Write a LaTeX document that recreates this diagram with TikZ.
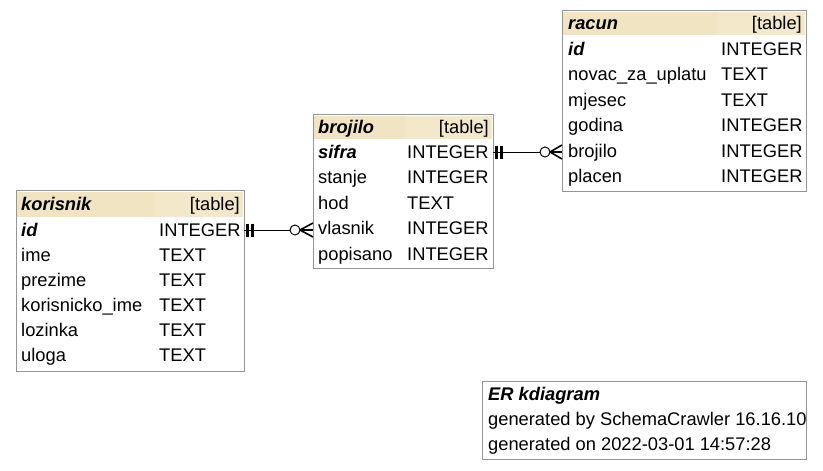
\documentclass[tikz,border=0pt]{standalone}
\usepackage{fontspec}
\setmainfont{Liberation Sans}
\usetikzlibrary{calc}
\definecolor{hdrL}{HTML}{F1E4C2}
\definecolor{hdrR}{HTML}{F3E8CA}
\definecolor{bord}{HTML}{959595}
\tikzset{
  every node/.style={font=\fontsize{18.3}{20}\selectfont, inner sep=0pt},
  tbox/.style={draw=bord, line width=1pt, fill=white},
  txt/.style={anchor=base west},
  rtxt/.style={anchor=base east},
  ttl/.style={anchor=base west, font=\fontsize{18.3}{20}\selectfont\bfseries\itshape},
  rel/.style={line width=1pt, black},
  bar/.style={line width=3pt, black},
  crow/.style={line width=1.6pt, black},
}
\begin{document}
\begin{tikzpicture}[x=1pt,y=-1pt]
\useasboundingbox (0,0) rectangle (823,471);
\fill[white] (0,0) rectangle (823,471);

% ---------- korisnik ----------
\draw[tbox] (16,190) rectangle (244,371);
\fill[hdrL] (17,192) rectangle (155,217);
\fill[hdrR] (155,192) rectangle (243,217);
\node[ttl] (k-title) at (21,210) {korisnik};
\node[rtxt] (k-tag) at (240,210) {[table]};
\node[ttl] (k-id) at (21,236) {id};
\node[txt] (k-idt) at (159,236) {INTEGER};
\node[txt] (k-ime) at (21,261) {ime};
\node[txt] at (159,261) {TEXT};
\node[txt] (k-prez) at (21,286) {prezime};
\node[txt] at (159,286) {TEXT};
\node[txt] (k-kor) at (21,311) {korisnicko\_ime};
\node[txt] at (159,311) {TEXT};
\node[txt] (k-loz) at (21,336) {lozinka};
\node[txt] at (159,336) {TEXT};
\node[txt] (k-ulo) at (21,361) {uloga};
\node[txt] at (159,361) {TEXT};

% ---------- brojilo ----------
\draw[tbox] (313,114) rectangle (493,268);
\fill[hdrL] (314,116) rectangle (405,139);
\fill[hdrR] (405,116) rectangle (492,139);
\node[ttl] (b-title) at (318,133) {brojilo};
\node[rtxt] (b-tag) at (489,133) {[table]};
\node[ttl] (b-sifra) at (318,158) {sifra};
\node[txt] (b-sifrat) at (407,158) {INTEGER};
\node[txt] (b-stanje) at (318,183.5) {stanje};
\node[txt] at (407,183.5) {INTEGER};
\node[txt] (b-hod) at (318,209) {hod};
\node[txt] at (407,209) {TEXT};
\node[txt] (b-vl) at (318,234.5) {vlasnik};
\node[txt] at (407,234.5) {INTEGER};
\node[txt] (b-pop) at (318,260) {popisano};
\node[txt] at (407,260) {INTEGER};

% ---------- racun ----------
\draw[tbox] (562,10) rectangle (806,191);
\fill[hdrL] (563,12) rectangle (717,35);
\fill[hdrR] (717,12) rectangle (805,35);
\node[ttl] (r-title) at (568,29) {racun};
\node[rtxt] (r-tag) at (802,29) {[table]};
\node[ttl] (r-id) at (568,55) {id};
\node[txt] at (721,55) {INTEGER};
\node[txt] (r-nov) at (568,80.5) {novac\_za\_uplatu};
\node[txt] at (721,80.5) {TEXT};
\node[txt] (r-mj) at (568,106) {mjesec};
\node[txt] at (721,106) {TEXT};
\node[txt] (r-god) at (568,131.5) {godina};
\node[txt] at (721,131.5) {INTEGER};
\node[txt] (r-br) at (568,157) {brojilo};
\node[txt] at (721,157) {INTEGER};
\node[txt] (r-pl) at (568,182) {placen};
\node[txt] at (721,182) {INTEGER};

% ---------- connectors ----------
\coordinate (c1s) at (244,230);
\coordinate (c1e) at (313,230);
\draw[rel] (c1s) -- ($(c1e)+(-23,0)$);
\draw[bar] ($(c1s)+(3.5,-6.5)$) -- ($(c1s)+(3.5,6.5)$);
\draw[bar] ($(c1s)+(8.5,-6.5)$) -- ($(c1s)+(8.5,6.5)$);
\draw[rel, fill=white] ($(c1e)+(-18,0)$) circle (5);
\draw[crow] ($(c1e)+(-13,0)$) -- ($(c1e)+(0,-7)$);
\draw[crow] ($(c1e)+(-13,0)$) -- (c1e);
\draw[crow] ($(c1e)+(-13,0)$) -- ($(c1e)+(0,7)$);

\coordinate (c2s) at (493,152);
\coordinate (c2e) at (562,152);
\draw[rel] (c2s) -- ($(c2e)+(-22,0)$);
\draw[bar] ($(c2s)+(3.5,-6.5)$) -- ($(c2s)+(3.5,6.5)$);
\draw[bar] ($(c2s)+(8.5,-6.5)$) -- ($(c2s)+(8.5,6.5)$);
\draw[rel, fill=white] ($(c2e)+(-17,0)$) circle (5);
\draw[crow] ($(c2e)+(-12,0)$) -- ($(c2e)+(0,-7)$);
\draw[crow] ($(c2e)+(-12,0)$) -- (c2e);
\draw[crow] ($(c2e)+(-12,0)$) -- ($(c2e)+(0,7)$);

% ---------- legend ----------
\draw[tbox] (482,381) rectangle (806,459);
\node[ttl] (l-title) at (488,400) {ER kdiagram};
\node[txt] (l-by) at (488,425) {generated by SchemaCrawler 16.16.10};
\node[txt] (l-on) at (488,450) {generated on 2022-03-01 14:57:28};
\end{tikzpicture}
\end{document}
